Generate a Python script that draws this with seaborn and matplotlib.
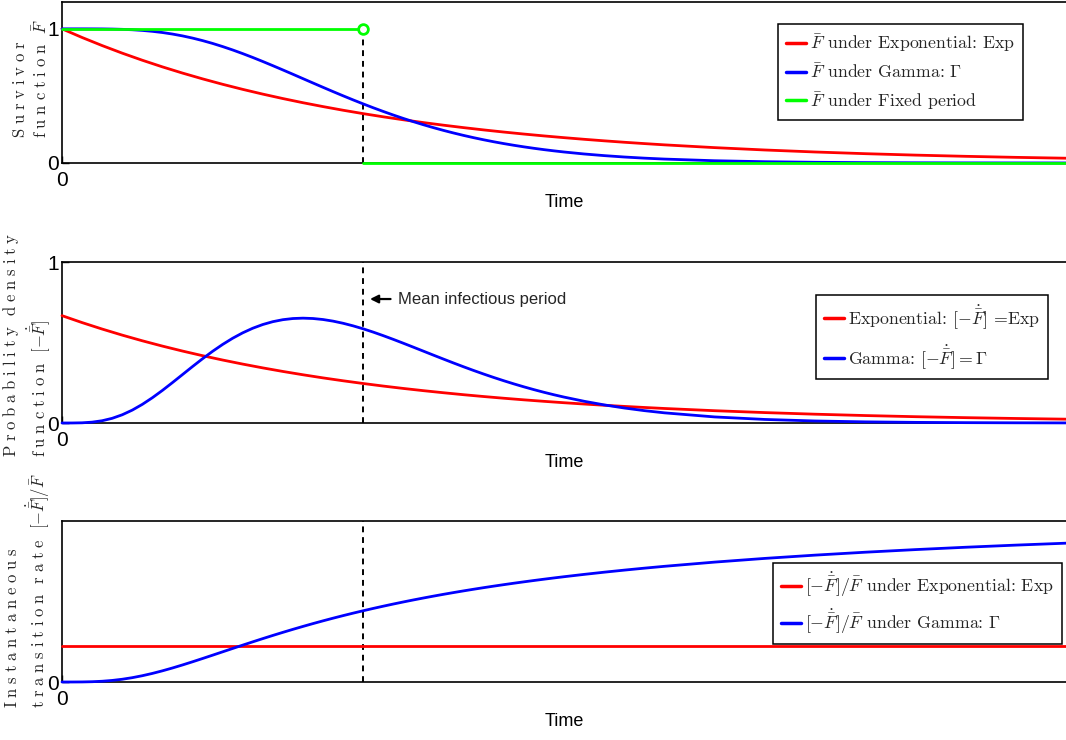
import matplotlib
matplotlib.use("Agg")
import matplotlib.pyplot as plt
import seaborn as sns

# ---------------- data ----------------
# exponential curves (mean infectious period 1.5)
time_exp = [0.0, 0.1, 0.2, 0.3, 0.4, 0.5, 0.6, 0.7, 0.8, 0.9,
            1.0, 1.1, 1.2, 1.3, 1.4, 1.5, 1.6, 1.7, 1.8, 1.9,
            2.0, 2.1, 2.2, 2.3, 2.4, 2.5, 2.6, 2.7, 2.8, 2.9,
            3.0, 3.25, 3.5, 3.75, 4.0, 4.25, 4.5, 4.75, 5.0]

surv_exp = [1.0, 0.9355, 0.8752, 0.8187, 0.7659, 0.7165, 0.6703, 0.6271, 0.5866, 0.5488,
            0.5134, 0.4803, 0.4493, 0.4204, 0.3932, 0.3679, 0.3442, 0.3220, 0.3012, 0.2818,
            0.2636, 0.2466, 0.2307, 0.2158, 0.2019, 0.1889, 0.1767, 0.1653, 0.1546, 0.1447,
            0.1353, 0.1146, 0.0970, 0.0821, 0.0695, 0.0588, 0.0498, 0.0421, 0.0357]

dens_exp = [0.6667, 0.6237, 0.5835, 0.5458, 0.5106, 0.4777, 0.4469, 0.4181, 0.3911, 0.3659,
            0.3423, 0.3202, 0.2996, 0.2802, 0.2622, 0.2453, 0.2294, 0.2146, 0.2008, 0.1879,
            0.1757, 0.1644, 0.1538, 0.1439, 0.1346, 0.1259, 0.1178, 0.1102, 0.1031, 0.0965,
            0.0902, 0.0764, 0.0647, 0.0547, 0.0463, 0.0392, 0.0332, 0.0281, 0.0238]

# gamma curves (same mean)
time_gamma = [0.0, 0.05, 0.1, 0.15, 0.2, 0.25, 0.3, 0.35, 0.4, 0.45,
              0.5, 0.55, 0.6, 0.65, 0.7, 0.75, 0.8, 0.85, 0.9, 0.95,
              1.0, 1.05, 1.1, 1.15, 1.2, 1.25, 1.3, 1.35, 1.4, 1.45,
              1.5, 1.55, 1.6, 1.65, 1.7, 1.75, 1.8, 1.85, 1.9, 1.95,
              2.0, 2.05, 2.1, 2.15, 2.2, 2.25, 2.3, 2.35, 2.4, 2.45,
              2.5, 2.6, 2.7, 2.8, 2.9, 3.0, 3.25, 3.5, 3.75, 4.0,
              4.25, 4.5, 4.75, 5.0]

surv_gamma = [1.0, 1.0, 1.0, 0.9998, 0.9994, 0.9983, 0.9963, 0.9931, 0.9882, 0.9814,
              0.9725, 0.9611, 0.9474, 0.9311, 0.9123, 0.8912, 0.8678, 0.8425, 0.8153, 0.7866,
              0.7565, 0.7254, 0.6936, 0.6614, 0.6288, 0.5963, 0.5640, 0.5321, 0.5008, 0.4702,
              0.4405, 0.4117, 0.3841, 0.3575, 0.3321, 0.3080, 0.2851, 0.2634, 0.2429, 0.2237,
              0.2056, 0.1887, 0.1730, 0.1583, 0.1447, 0.1321, 0.1204, 0.1096, 0.0996, 0.0905,
              0.0821, 0.0673, 0.0550, 0.0447, 0.0362, 0.0293, 0.0169, 0.0096, 0.0053, 0.0029,
              0.0016, 0.0009, 0.0005, 0.0002]

dens_gamma = [0.0, 0.0001, 0.0012, 0.0053, 0.0141, 0.0291, 0.0511, 0.0801, 0.1157, 0.1569,
              0.2024, 0.2509, 0.3007, 0.3506, 0.3992, 0.4453, 0.4880, 0.5265, 0.5601, 0.5886,
              0.6117, 0.6294, 0.6417, 0.6489, 0.6512, 0.6490, 0.6427, 0.6327, 0.6194, 0.6033,
              0.5849, 0.5645, 0.5425, 0.5194, 0.4954, 0.4709, 0.4462, 0.4214, 0.3969, 0.3727,
              0.3491, 0.3262, 0.3041, 0.2828, 0.2625, 0.2431, 0.2247, 0.2073, 0.1908, 0.1754,
              0.1610, 0.1350, 0.1125, 0.0932, 0.0768, 0.0631, 0.0377, 0.0221, 0.0126, 0.0071,
              0.0039, 0.0022, 0.0012, 0.0006]

rate_gamma = [0.0, 0.0001, 0.0012, 0.0053, 0.0141, 0.0292, 0.0513, 0.0807, 0.1171, 0.1599,
              0.2082, 0.2610, 0.3175, 0.3766, 0.4376, 0.4997, 0.5623, 0.6249, 0.6870, 0.7483,
              0.8086, 0.8676, 0.9251, 0.9812, 1.0356, 1.0884, 1.1396, 1.1891, 1.2369, 1.2831,
              1.3278, 1.3710, 1.4126, 1.4528, 1.4916, 1.5291, 1.5652, 1.6001, 1.6339, 1.6664,
              1.6980, 1.7284, 1.7579, 1.7863, 1.8138, 1.8405, 1.8662, 1.8912, 1.9154, 1.9390,
              1.9617, 2.0051, 2.0461, 2.0846, 2.1211, 2.1556, 2.2340, 2.3030, 2.3639, 2.4183,
              2.4670, 2.5109, 2.5506, 2.5866]

rate_exp_time = [0.0, 5.0]
rate_exp = [0.6667, 0.6667]

fixed_time_before = [0.0, 1.5]
fixed_before = [1.0, 1.0]
fixed_time_after = [1.5, 5.0]
fixed_after = [0.0, 0.0]

mean_period = 1.5

legend_top = [r"$\bar{F}$ under Exponential: Exp",
              r"$\bar{F}$ under Gamma: $\Gamma$",
              r"$\bar{F}$ under Fixed period"]
legend_mid = [r"Exponential: $[-\dot{\bar{F}}]$ =Exp",
              r"Gamma: $[-\dot{\bar{F}}] = \Gamma$"]
legend_bot = [r"$[-\dot{\bar{F}}]/\bar{F}$ under Exponential: Exp",
              r"$[-\dot{\bar{F}}]/\bar{F}$ under Gamma: $\Gamma$"]

# ---------------- style ----------------
sns.set_theme(style="white")
plt.rcParams["mathtext.fontset"] = "cm"
plt.rcParams["font.family"] = ["Liberation Sans", "DejaVu Sans"]
plt.rcParams["axes.unicode_minus"] = False

RED, BLUE, GREEN = "#ff0000", "#0000ff", "#00ff00"
LW = 2.0
SANS = ["Liberation Sans", "DejaVu Sans"]
CURVE = dict(lw=LW, sort=False, estimator=None, zorder=3, clip_on=False)


def spaced_line(words, trail=""):
    parts = []
    for w in words:
        parts.append(r"\hspace{0.33}".join(r"\mathrm{%s}" % c for c in w))
    s = r"\hspace{0.75}".join(parts)
    if trail:
        s += r"\hspace{0.75}" + trail
    return "$" + s + "$"


W, H = 1066, 740
fig = plt.figure(figsize=(W / 100, H / 100), dpi=100)


def make_axes(top_px, bot_px):
    left = 62 / W
    return fig.add_axes([left, 1 - bot_px / H, 1 - left, (bot_px - top_px) / H])


ax1 = make_axes(2, 163)
ax2 = make_axes(262, 423)
ax3 = make_axes(521, 682)

# ---- panel 1: survivor ----
sns.lineplot(x=time_exp, y=surv_exp, ax=ax1, color=RED, label=legend_top[0], **CURVE)
sns.lineplot(x=time_gamma, y=surv_gamma, ax=ax1, color=BLUE, label=legend_top[1], **CURVE)
sns.lineplot(x=fixed_time_before, y=fixed_before, ax=ax1, color=GREEN, label=legend_top[2], **CURVE)
sns.lineplot(x=fixed_time_after, y=fixed_after, ax=ax1, color=GREEN, **CURVE)
ax1.vlines(mean_period, 0, fixed_before[-1], colors="black", linestyles=(0, (3, 2.5)), lw=1.4, zorder=2)
ax1.plot([mean_period], [fixed_before[-1]], "o", ms=7, mfc="white", mec=GREEN, mew=2, zorder=5)
ax1.set_ylim(0, 1.2)
ax1.set_yticks([0, 1])

# ---- panel 2: density ----
sns.lineplot(x=time_exp, y=dens_exp, ax=ax2, color=RED, label=legend_mid[0], **CURVE)
sns.lineplot(x=time_gamma, y=dens_gamma, ax=ax2, color=BLUE, label=legend_mid[1], **CURVE)
ax2.vlines(mean_period, 0, 1, colors="black", linestyles=(0, (3, 2.5)), lw=1.4, zorder=2)
ax2.set_ylim(0, 1)
ax2.set_yticks([0, 1])
ax2.annotate("", xy=(1.52, 0.77), xytext=(1.65, 0.77),
             arrowprops=dict(arrowstyle="-|>", color="black", lw=1.6, mutation_scale=12))
ax2.text(1.675, 0.77, "Mean infectious period", fontsize=12, family=SANS, va="center", ha="left")

# ---- panel 3: transition rate ----
sns.lineplot(x=rate_exp_time, y=rate_exp, ax=ax3, color=RED, label=legend_bot[0], **CURVE)
sns.lineplot(x=time_gamma, y=rate_gamma, ax=ax3, color=BLUE, label=legend_bot[1], **CURVE)
ax3.vlines(mean_period, 0, 3, colors="black", linestyles=(0, (3, 2.5)), lw=1.4, zorder=2)
ax3.set_ylim(0, 3)
ax3.set_yticks([0])

for ax in (ax1, ax2, ax3):
    ax.set_xlim(0, 5)
    ax.set_xticks([0])
    ax.set_xticklabels(["0"])
    ax.set_yticklabels([str(int(v)) for v in ax.get_yticks()])
    for s in ("left", "top", "bottom"):
        ax.spines[s].set_visible(True)
        ax.spines[s].set_color("black")
        ax.spines[s].set_linewidth(1.2)
    ax.spines["right"].set_visible(False)
    ax.tick_params(axis="both", direction="in", length=5, width=1, colors="black",
                   labelsize=15, left=True, bottom=True)
    ax.tick_params(axis="y", pad=2)
    ax.tick_params(axis="x", pad=6)
    for lab in ax.get_xticklabels() + ax.get_yticklabels():
        lab.set_family(SANS)
    ax.set_xlabel("Time", fontsize=13, family=SANS, color="black")
    ax.xaxis.set_label_coords(0.5, -0.19)
    ax.set_ylabel("")
    ax.grid(False)


def style_legend(ax, anchor, spacing):
    leg = ax.legend(loc="upper left", bbox_to_anchor=anchor, borderaxespad=0,
                    prop={"family": "cmr10", "size": 12.8}, frameon=True, fancybox=False,
                    edgecolor="black", framealpha=1, handlelength=1.15, handletextpad=0.2,
                    borderpad=0.45, labelspacing=spacing)
    leg.get_frame().set_linewidth(1.1)
    for line in leg.get_lines():
        line.set_linewidth(2.5)


style_legend(ax1, (0.713, 0.863), 0.48)
style_legend(ax2, (0.751, 0.795), 0.7)
style_legend(ax3, (0.708, 0.739), 0.5)

# ---- y labels (two-line, left aligned) ----
lab_kw = dict(rotation=90, ha="center", va="center", multialignment="left", fontsize=12)
fig.text(31 / W, 1 - 78.5 / H,
         spaced_line(["Survivor"]) + "\n" + spaced_line(["function"], r"\bar{F}"), **lab_kw)
fig.text(27 / W, 1 - 345 / H,
         spaced_line(["Probability", "density"]) + "\n" +
         spaced_line(["function"], r"[-\dot{\bar{F}}]"), **lab_kw)
fig.text(28 / W, 1 - 591 / H,
         spaced_line(["Instantaneous"]) + "\n" +
         spaced_line(["transition", "rate"], r"[-\dot{\bar{F}}]/\bar{F}"), **lab_kw)

fig.savefig("out.png", dpi=100)
